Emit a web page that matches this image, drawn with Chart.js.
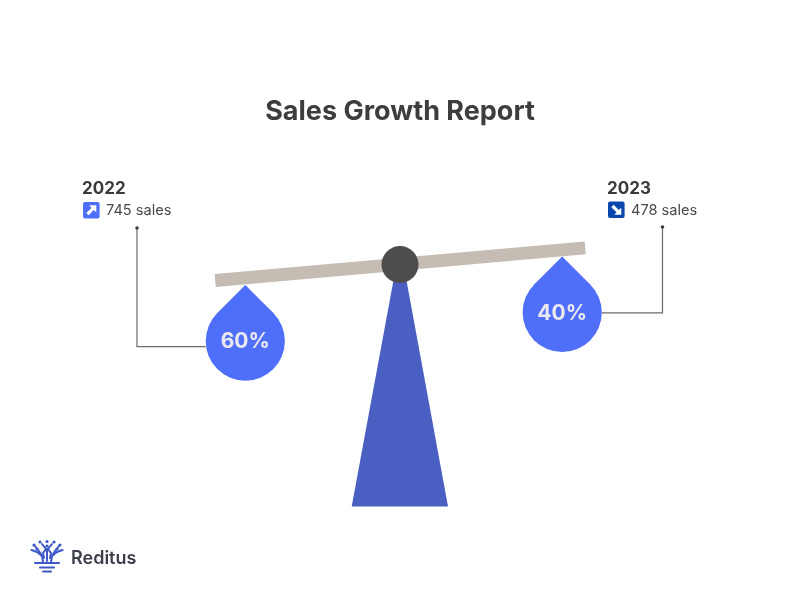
<!DOCTYPE html>
<html>
<head>
<meta charset="utf-8">
<style>html,body{margin:0;padding:0;background:#fff}#w{width:800px;height:600px}</style>
<script src="https://cdn.jsdelivr.net/npm/chart.js@4"></script>
</head>
<body>
<div id="w"><canvas id="c" width="800" height="600"></canvas></div>
<script>
const titleText = 'Sales Growth Report';
const years = [2022, 2023];
const sales = [745, 478];
const shares = [60, 40];
const brand = 'Reditus';

const FONT = 'Inter, "Noto Sans", sans-serif';
const dropR = 39.6;
const titleH = 27 * 1.2 + 95.5 + 10;   // height of the title block
const pxPerShare = 1.435, pxPerYear = 316.9;
const yMin = 60 - (341.1 - titleH) / pxPerShare;
const yMax = yMin + (600 - titleH) / pxPerShare;
const xMin = 2022 - 245.3 / pxPerYear;
const xMax = xMin + 800 / pxPerYear;

const sides = [
  {labelX: 82, iconX: 83, iconY: 202, icon: '#4f6ffa', up: true, textX: 106, lineX: 137, lineTop: 228},
  {labelX: 607, iconX: 608, iconY: 201.5, icon: '#0a46ad', up: false, textX: 631, lineX: 662.5, lineTop: 227}
];

function arrow(ctx, x, y, up) {
  ctx.save();
  ctx.translate(x + 8.3, y + 8.3);
  if (!up) ctx.scale(1, -1);
  ctx.fillStyle = '#fff';
  ctx.beginPath();
  ctx.moveTo(5, -5); ctx.lineTo(5, 2); ctx.lineTo(2.4, -.2); ctx.lineTo(-2.6, 5);
  ctx.lineTo(-5, 2.6); ctx.lineTo(.2, -2.4); ctx.lineTo(-2, -5);
  ctx.closePath(); ctx.fill();
  ctx.restore();
}

function logo(ctx) {
  const b = '#3f58c8';
  ctx.save();
  ctx.strokeStyle = b; ctx.fillStyle = b; ctx.lineCap = 'round';
  ctx.lineWidth = 2;
  [[35,563,59,563],[40,567.5,54,567.5]].forEach(l => {
    ctx.beginPath(); ctx.moveTo(l[0], l[1]); ctx.lineTo(l[2], l[3]); ctx.stroke();
  });
  ctx.beginPath(); ctx.moveTo(43, 571.5); ctx.lineTo(51, 571.5); ctx.stroke();
  ctx.lineWidth = 2;
  const branches = [
    [[43,562],[42,556],[37,552],[31.5,550]],
    [[51,562],[52,556],[57,552],[62.5,550]],
    [[42,556],[39,551],[35,546]],
    [[52,556],[55,551],[59,546]],
    [[47,561],[47,549]],
    [[44,558],[43,553],[46,549],[42,544]],
    [[50,558],[51,553],[48,549],[52,544]]
  ];
  branches.forEach(p => {
    ctx.beginPath(); ctx.moveTo(p[0][0], p[0][1]);
    p.slice(1).forEach(q => ctx.lineTo(q[0], q[1])); ctx.stroke();
  });
  [[47,541.5],[40,542],[54,542],[34,545],[60,545],[47,546],[37,549],[57,549]].forEach(d => {
    ctx.beginPath(); ctx.arc(d[0], d[1], 1.6, 0, 7); ctx.fill();
  });
  ctx.restore();
  ctx.fillStyle = '#3c3f4a';
  ctx.font = '600 18px ' + FONT;
  ctx.textAlign = 'left'; ctx.textBaseline = 'alphabetic';
  ctx.fillText(brand, 71, 564);
}

const scalePlugin = {
  id: 'scaleDecor',
  beforeDatasetsDraw(chart) {
    const ctx = chart.ctx;
    const pts = chart.getDatasetMeta(0).data;
    const a = pts[0], b = pts[1];
    const tipA = {x: a.x, y: a.y - dropR * Math.SQRT2};
    const tipB = {x: b.x, y: b.y - dropR * Math.SQRT2};
    const k = (tipB.y - tipA.y) / (tipB.x - tipA.x);
    const thick = 12.8;
    const x0 = tipA.x - 29.6, x1 = tipB.x + 23.5;
    const y0 = tipA.y + (x0 - tipA.x) * k - 0.9, y1 = tipA.y + (x1 - tipA.x) * k + 0.1;

    // post
    ctx.save();
    ctx.fillStyle = '#495fc2';
    ctx.beginPath();
    ctx.moveTo(400, 245); ctx.lineTo(448, 506.5); ctx.lineTo(351.7, 506.5);
    ctx.closePath(); ctx.fill();
    // beam
    ctx.fillStyle = '#c5bdb4';
    ctx.beginPath();
    ctx.moveTo(x0, y0); ctx.lineTo(x1, y1); ctx.lineTo(x1 - 1, y1 - thick); ctx.lineTo(x0 - 1, y0 - thick);
    ctx.closePath(); ctx.fill();
    // pivot
    ctx.fillStyle = '#4d4d4d';
    ctx.beginPath(); ctx.arc(400, 264.5, 18.5, 0, Math.PI * 2); ctx.fill();
    // connectors
    ctx.strokeStyle = '#6b6b6b'; ctx.lineWidth = 1.2;
    pts.forEach((p, i) => {
      const s = sides[i];
      const edge = p.x + (s.lineX > p.x ? dropR : -dropR);
      const ly = i === 0 ? p.y + 5.5 : p.y + 0.5;
      ctx.beginPath(); ctx.moveTo(s.lineX, s.lineTop); ctx.lineTo(s.lineX, ly); ctx.lineTo(edge, ly); ctx.stroke();
      ctx.fillStyle = '#3d3d3d';
      ctx.beginPath(); ctx.arc(s.lineX, s.lineTop, 1.8, 0, 7); ctx.fill();
    });
    // drop tips
    ctx.fillStyle = chart.data.datasets[0].backgroundColor;
    [[a, tipA], [b, tipB]].forEach(([p, t]) => {
      const o = dropR * Math.SQRT1_2;
      ctx.beginPath();
      ctx.moveTo(t.x, t.y); ctx.lineTo(p.x + o, p.y - o); ctx.lineTo(p.x, p.y); ctx.lineTo(p.x - o, p.y - o);
      ctx.closePath(); ctx.fill();
    });
    ctx.restore();
  },
  afterDatasetsDraw(chart) {
    const ctx = chart.ctx;
    const pts = chart.getDatasetMeta(0).data;
    ctx.save();
    pts.forEach((p, i) => {
      const s = sides[i];
      ctx.fillStyle = '#e9e9ef';
      ctx.font = '700 21px ' + FONT;
      ctx.textAlign = 'center'; ctx.textBaseline = 'middle';
      ctx.fillText(shares[i] + '%', p.x, p.y + 1);

      ctx.textAlign = 'left'; ctx.textBaseline = 'alphabetic';
      ctx.fillStyle = '#3a3a3a';
      ctx.font = '700 17px ' + FONT;
      ctx.fillText(String(years[i]), s.labelX, 194);

      ctx.fillStyle = s.icon;
      ctx.beginPath(); ctx.roundRect(s.iconX, s.iconY, 16.6, 16.6, 2); ctx.fill();
      arrow(ctx, s.iconX, s.iconY, s.up);

      ctx.fillStyle = '#4a4a4a';
      ctx.font = '400 14.6px ' + FONT;
      ctx.fillText(sales[i] + ' sales', s.textX, 215);
    });
    logo(ctx);
    ctx.restore();
  }
};

new Chart(document.getElementById('c'), {
  type: 'scatter',
  data: {
    datasets: [{
      label: 'Share of sales',
      data: years.map((y, i) => ({x: y, y: shares[i]})),
      backgroundColor: '#4f6ffa',
      borderWidth: 0,
      pointRadius: dropR,
      pointHoverRadius: dropR,
      clip: false
    }]
  },
  options: {
    responsive: false,
    animation: false,
    layout: {padding: 0, autoPadding: false},
    scales: {
      x: {type: 'linear', display: false, min: xMin, max: xMax},
      y: {type: 'linear', display: false, reverse: true, min: yMin, max: yMax}
    },
    plugins: {
      legend: {display: false},
      tooltip: {enabled: false},
      title: {
        display: true,
        text: titleText,
        color: '#3d3d3d',
        font: {family: FONT, size: 27, weight: '700', lineHeight: 1.2},
        padding: {top: 95.5, bottom: 10}
      }
    }
  },
  plugins: [scalePlugin]
});
</script>
</body>
</html>
